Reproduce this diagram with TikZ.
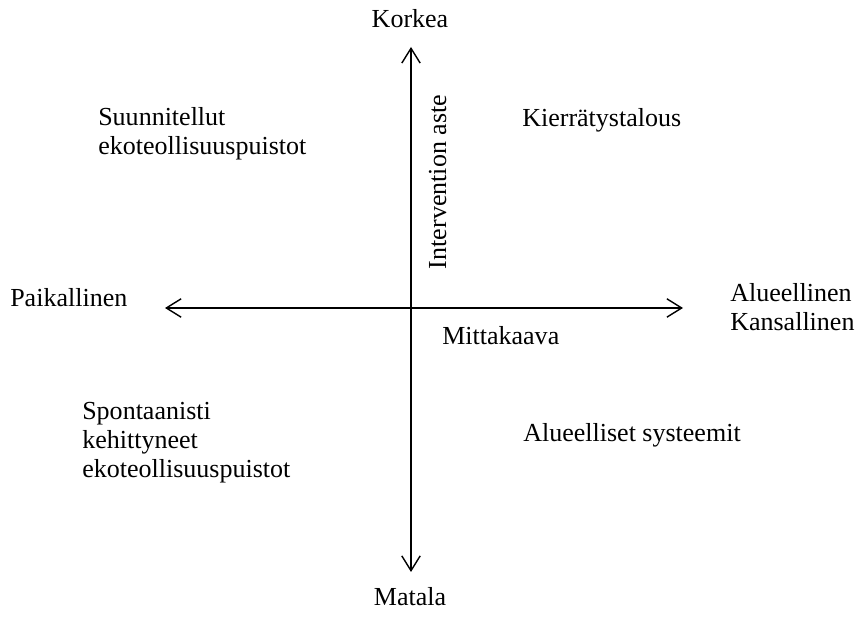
\documentclass[tikz,border=0pt]{standalone}
\usepackage{fontspec}
\setmainfont{Liberation Serif}
\usepackage{tikz}
\usetikzlibrary{arrows.meta,positioning}

\tikzset{
  axis/.style={line width=1pt,{Straight Barb[length=3.7mm,width=4.6mm]}-{Straight Barb[length=3.7mm,width=4.6mm]}},
  label/.style={anchor=base west,inner sep=0pt,align=left,font=\fontsize{18.5}{20.8}\selectfont}
}

\begin{document}
\begin{tikzpicture}
    \useasboundingbox (0,0) rectangle (21.475,15.475);

    % Axis ends
    \coordinate (top) at (10.275,14.3);
    \coordinate (bottom) at (10.275,1.175);
    \coordinate (left) at (4.125,7.775);
    \coordinate (right) at (17.075,7.775);

    % Axis
    \draw[axis] (top) -- (bottom);
    \draw[axis] (left) -- (right);

    % Axis labels
    \node[label,anchor=base] (korkea) at (10.25,14.775) {Korkea};
    \node[label,anchor=base] (matala) at (10.25,0.325) {Matala};
    \node[label] (paikallinen) at (0.25,7.8) {Paikallinen};
    \node[label] (alueellinen) at (18.25,7.2) {Alueellinen\\Kansallinen};
    \node[label] (mittakaava) at (11.05,6.85) {Mittakaava};
    \node[label,anchor=base,rotate=90] (intervention) at (11.15,10.925) {Intervention aste};

    % Quadrants
    \node[label] (suunnitellut) at (2.45,11.6) {Suunnitellut\\ekoteollisuuspuistot};
    \node[label] (kierratys) at (13.05,12.3) {Kierrätystalous};
    \node[label] (spontaanisti) at (2.05,3.525) {Spontaanisti\\kehittyneet\\ekoteollisuuspuistot};
    \node[label] (systeemit) at (13.075,4.425) {Alueelliset systeemit};
\end{tikzpicture}
\end{document}
